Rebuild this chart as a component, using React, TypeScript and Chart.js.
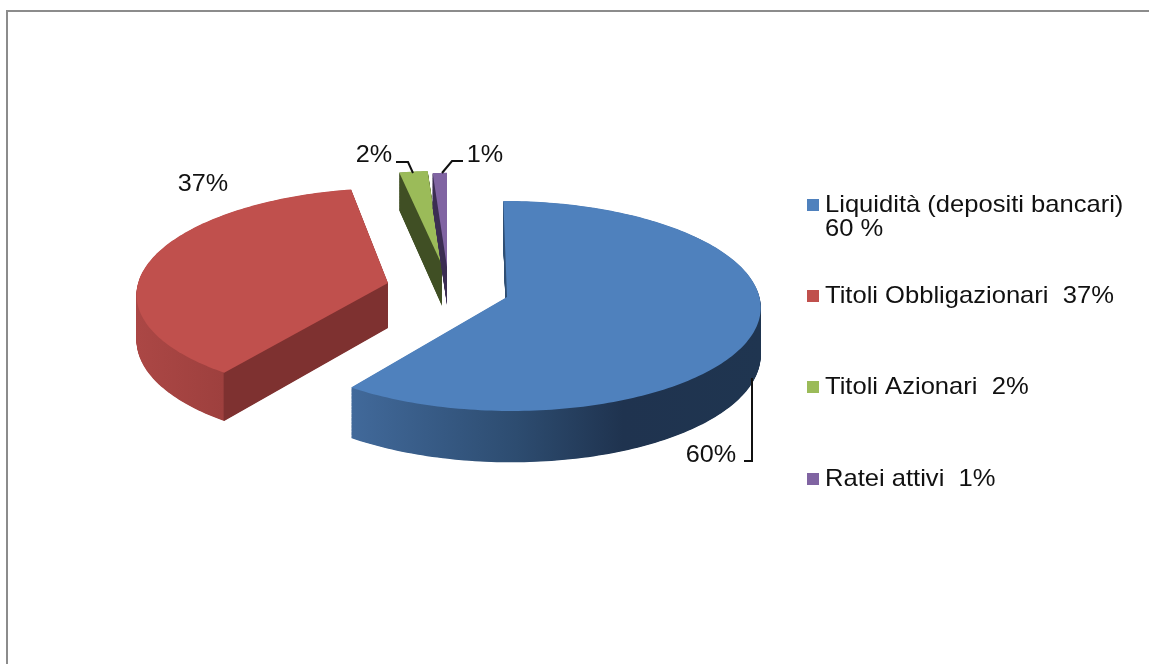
import React, { useEffect, useRef } from "react";
import { Chart, registerables } from "chart.js";

Chart.register(...registerables);

const categories = ["Liquidità (depositi bancari)", "Titoli Obbligazionari", "Titoli Azionari", "Ratei attivi"];
const values = [60, 37, 2, 1];
const legendLines = [["Liquidità (depositi bancari)", "60 %"], ["Titoli Obbligazionari  37%"], ["Titoli Azionari  2%"], ["Ratei attivi  1%"]];
const pieLabels = ["60%", "37%", "2%", "1%"];
const topColors = ["#4F81BD", "#C0504D", "#9BBB59", "#8064A2"];

// Pie look: where each exploded slice sits and how the 3D projection treats it
const explodeX = [60, -59, -5, 0];
const explodeY = [17, 3, -15, -13];
const sliceScale = [0.99, 0.98, 0.97, 0.97];
const sliceSkew = [4, -7, 0, 0];
const sliceDepth = [47, 45, 41, 38];
const TILT = 0.413;
const PERSPECTIVE = 0.085;
const RADIUS = 255;

const wallStops: [number, number, [number, string][]][] = [
  [353, 762, [[0, "#41699a"], [0.4, "#2d4c70"], [0.66, "#1f334f"], [1, "#1f3550"]]],
  [137, 390, [[0, "#ab4745"], [0.34, "#9e403e"], [0.345, "#7e3130"], [1, "#7e3130"]]],
  [395, 445, [[0, "#404f24"], [1, "#404f24"]]],
  [425, 450, [[0, "#3b2d52"], [1, "#3b2d52"]]],
];

const labelAnchors = [
  { x: 711, y: 455 }, { x: 203, y: 184 }, { x: 374, y: 155 }, { x: 485, y: 155 },
];
const leaders = [
  [[752, 378], [752, 461], [744, 461]],
  [],
  [[396, 162], [408, 162], [413, 173]],
  [[463, 161], [452, 161], [442, 173]],
];
const legendCenters = [205, 296, 387, 479];

function projectedContext(real: CanvasRenderingContext2D, el: any, i: number, lift: number) {
  const ax = el.x + explodeX[i];
  const ay = el.y + explodeY[i];
  const R = el.outerRadius;
  const s = sliceScale[i];
  const map = (px: number, py: number) => {
    const u = (px - el.x) / R;
    const v = (py - el.y) / R;
    const w = 1 - PERSPECTIVE * v;
    return [ax + (R * s * u + sliceSkew[i] * v) / w, ay + (R * s * TILT * v + lift) / w];
  };
  const overrides: Record<string, any> = {
    moveTo(x: number, y: number) {
      const p = map(x, y);
      real.moveTo(p[0], p[1]);
    },
    lineTo(x: number, y: number) {
      const p = map(x, y);
      real.lineTo(p[0], p[1]);
    },
    arc(x: number, y: number, r: number, a0: number, a1: number, ccw?: boolean) {
      const n = Math.max(2, Math.ceil(Math.abs(a1 - a0) / 0.02));
      for (let k = 0; k <= n; k++) {
        const a = a0 + ((a1 - a0) * k) / n;
        const p = map(x + r * Math.cos(a), y + r * Math.sin(a));
        real.lineTo(p[0], p[1]);
      }
    },
    translate() {},
  };
  return new Proxy(real, {
    get(t: any, k: string) {
      if (k in overrides) return overrides[k];
      const v = t[k];
      return typeof v === "function" ? v.bind(t) : v;
    },
    set(t: any, k: string, v: any) {
      t[k] = v;
      return true;
    },
  }) as CanvasRenderingContext2D;
}

function drawSlice(real: CanvasRenderingContext2D, el: any, i: number, fill: any, lift: number) {
  const ghost = Object.create(el);
  ghost.options = {
    backgroundColor: fill,
    borderColor: fill,
    borderWidth: 0,
    borderAlign: "center",
    offset: 0,
    spacing: 0,
    circular: true,
    borderRadius: 0,
  };
  ghost.draw(projectedContext(real, el, i, lift));
}

function wideText(ctx: CanvasRenderingContext2D, text: string, x: number, y: number, stretch: number) {
  ctx.save();
  ctx.translate(x, y);
  ctx.scale(stretch, 1);
  ctx.fillText(text, 0, 0);
  ctx.restore();
}

const pie3d = {
  id: "pie3d",
  beforeDatasetDraw(chart: any) {
    const ctx: CanvasRenderingContext2D = chart.ctx;
    const arcs = chart.getDatasetMeta(0).data;
    const order = [2, 3, 1, 0];
    for (const i of order) {
      const [x0, x1, stops] = wallStops[i];
      const g = ctx.createLinearGradient(x0, 0, x1, 0);
      stops.forEach(([o, c]) => g.addColorStop(o, c));
      for (let d = sliceDepth[i]; d > 0; d -= 0.5) drawSlice(ctx, arcs[i], i, g, d);
      drawSlice(ctx, arcs[i], i, topColors[i], 0);
    }
    return false;
  },
  afterDraw(chart: any) {
    const ctx: CanvasRenderingContext2D = chart.ctx;
    ctx.save();
    // frame
    ctx.fillStyle = "#8c8c8c";
    ctx.fillRect(6, 10, 1143, 2);
    ctx.fillRect(6, 10, 2, 654);
    // slice labels
    ctx.font = '24px "Liberation Sans"';
    ctx.fillStyle = "#111";
    ctx.textAlign = "center";
    ctx.textBaseline = "middle";
    pieLabels.forEach((t, i) => wideText(ctx, t, labelAnchors[i].x, labelAnchors[i].y, 1.05));
    ctx.strokeStyle = "#111";
    ctx.lineWidth = 2;
    leaders.forEach((pts) => {
      if (!pts.length) return;
      ctx.beginPath();
      pts.forEach((p, k) => (k ? ctx.lineTo(p[0], p[1]) : ctx.moveTo(p[0], p[1])));
      ctx.stroke();
    });
    // legend
    ctx.textAlign = "left";
    legendLines.forEach((lines, i) => {
      const y = legendCenters[i];
      ctx.fillStyle = topColors[i];
      ctx.fillRect(807, y - 6, 12, 12);
      ctx.fillStyle = "#111";
      lines.forEach((t, k) => wideText(ctx, t, 825, y + k * 24, 1.065));
    });
    ctx.restore();
  },
};

export default function App() {
  const ref = useRef<HTMLCanvasElement>(null);
  useEffect(() => {
    document.body.style.margin = "0";
    const chart = new Chart(ref.current!, {
      type: "pie",
      data: {
        labels: categories,
        datasets: [{ data: values, backgroundColor: topColors, borderWidth: 0 }],
      },
      options: {
        responsive: false,
        animation: false,
        radius: RADIUS,
        layout: { padding: { left: 0, right: 255, top: 0, bottom: 104 } },
        plugins: { legend: { display: false }, tooltip: { enabled: false } },
      } as any,
      plugins: [pie3d],
    });
    return () => chart.destroy();
  }, []);
  return <canvas ref={ref} width={1149} height={664} style={{ display: "block" }} />;
}
